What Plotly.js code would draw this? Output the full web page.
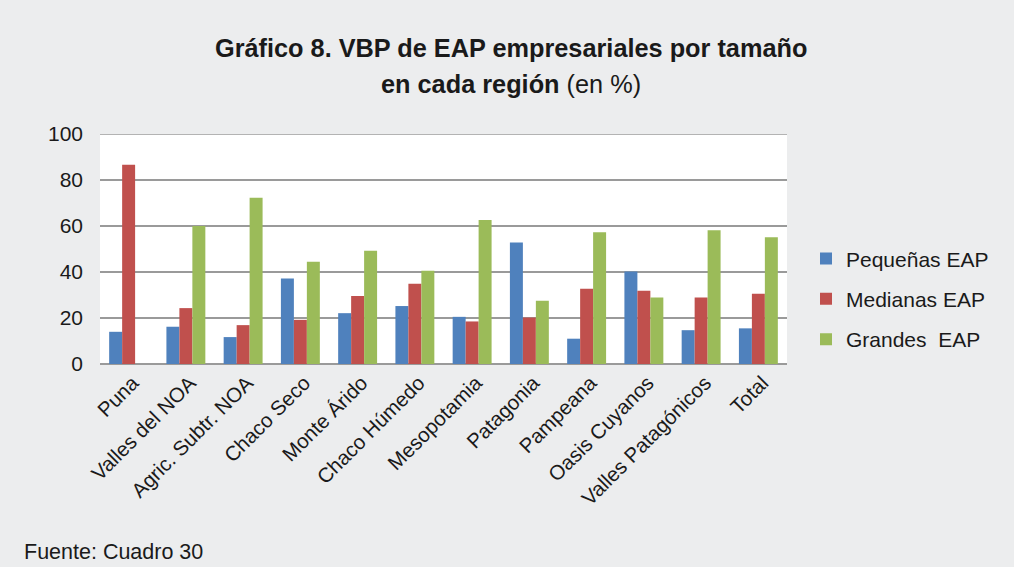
<!DOCTYPE html>
<html>
<head>
<meta charset="utf-8">
<script src="https://cdn.plot.ly/plotly-3.0.1.min.js"></script>
<style>html,body{margin:0;padding:0;background:#ecedee;}#chart{width:1014px;height:567px;}</style>
</head>
<body>
<div id="chart"></div>
<script>
const regiones = ["Puna","Valles del NOA","Agric. Subtr. NOA","Chaco Seco","Monte Árido","Chaco Húmedo","Mesopotamia","Patagonia","Pampeana","Oasis Cuyanos","Valles Patagónicos","Total"];
const pequenas = [14.0,16.2,11.7,37.2,22.1,25.2,20.5,52.8,11.0,40.2,14.7,15.5];
const medianas = [86.6,24.3,16.9,19.2,29.6,34.9,18.5,20.2,32.7,31.8,28.9,30.5];
const grandes  = [0,60.0,72.3,44.5,49.2,40.5,62.6,27.5,57.3,28.9,58.2,55.1];
const seriesNames = ["Pequeñas EAP","Medianas EAP","Grandes  EAP"];
const colors = ["#4f81bd","#c0504d","#9bbb59"];

const font = "Liberation Sans, Arial, sans-serif";
const vals = [pequenas, medianas, grandes];
const data = vals.map((v,i)=>({
  type:"bar", x:regiones, y:v, name:seriesNames[i],
  marker:{color:colors[i]}, legendgroup:"g"+i
}));

const layout = {
  width:1014, height:567,
  paper_bgcolor:"#ecedee", plot_bgcolor:"#ffffff",
  margin:{l:100,r:227,t:134,b:203},
  font:{family:font, size:21, color:"#1a1a1a"},
  bargap:0.32, bargroupgap:0,
  showlegend:true,
  legend:{x:(806-100)/687, xanchor:"left", y:0.283, yanchor:"middle",
    bgcolor:"rgba(0,0,0,0)", font:{size:21, color:"#1a1a1a"},
    traceorder:"grouped", tracegroupgap:10, itemwidth:30},
  xaxis:{tickangle:-45, showgrid:false, showline:false, zeroline:false,
    tickfont:{size:20.5}, fixedrange:true, ticklabelshift:4, ticklabelstandoff:2},
  yaxis:{range:[0,100], dtick:20, showgrid:true, gridcolor:"#9a9a9a", gridwidth:1.5,
    zeroline:true, zerolinecolor:"#9a9a9a", zerolinewidth:1.5,
    showline:false, ticks:"", ticklabelstandoff:16, tickfont:{size:21}},
  shapes:[{type:"line", xref:"paper", yref:"y", x0:0, x1:1, y0:100, y1:100,
    line:{color:"#9a9a9a", width:1.5}}],
  annotations:[
    {xref:"paper", yref:"paper", x:(511-100)/687, y:(364-48)/230, xanchor:"center", yanchor:"middle",
     showarrow:false, text:"<b>Gráfico 8. VBP de EAP empresariales por tamaño</b>",
     font:{size:25.3, family:font, color:"#1a1a1a"}},
    {xref:"paper", yref:"paper", x:(511-100)/687, y:(364-84)/230, xanchor:"center", yanchor:"middle",
     showarrow:false, text:"<b>en cada región</b> (en %)",
     font:{size:25.3, family:font, color:"#1a1a1a"}},
    {xref:"paper", yref:"paper", x:(22-100)/687, y:(364-552)/230, xanchor:"left", yanchor:"middle",
     showarrow:false, text:"Fuente: Cuadro 30",
     font:{size:21.5, family:font, color:"#1a1a1a"}}
  ]
};

Plotly.newPlot("chart", data, layout, {displayModeBar:false, staticPlot:true});
</script>
</body>
</html>
